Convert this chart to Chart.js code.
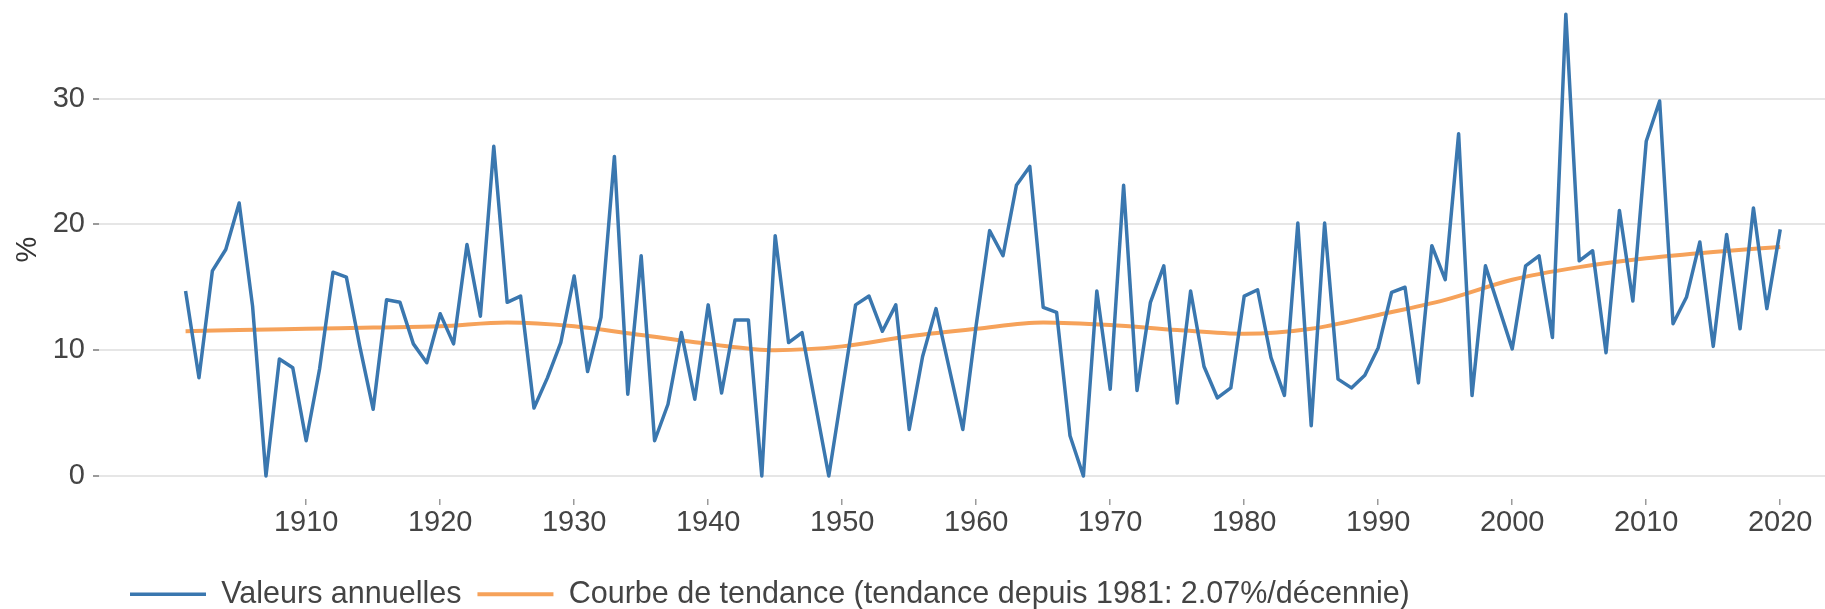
<!DOCTYPE html>
<html>
<head>
<meta charset="utf-8">
<script src="https://cdn.jsdelivr.net/npm/chart.js@4"></script>
<style>
  html, body { margin: 0; padding: 0; background: #fff; }
  #wrap { width: 1825px; height: 609px; position: relative; }
</style>
</head>
<body>
<div id="wrap"><canvas id="myChart"></canvas></div>
<script>
// années
const years = [
  1901, 1902, 1903, 1904, 1905, 1906, 1907, 1908, 1909, 1910,
  1911, 1912, 1913, 1914, 1915, 1916, 1917, 1918, 1919, 1920,
  1921, 1922, 1923, 1924, 1925, 1926, 1927, 1928, 1929, 1930,
  1931, 1932, 1933, 1934, 1935, 1936, 1937, 1938, 1939, 1940,
  1941, 1942, 1943, 1944, 1945, 1946, 1947, 1948, 1949, 1950,
  1951, 1952, 1953, 1954, 1955, 1956, 1957, 1958, 1959, 1960,
  1961, 1962, 1963, 1964, 1965, 1966, 1967, 1968, 1969, 1970,
  1971, 1972, 1973, 1974, 1975, 1976, 1977, 1978, 1979, 1980,
  1981, 1982, 1983, 1984, 1985, 1986, 1987, 1988, 1989, 1990,
  1991, 1992, 1993, 1994, 1995, 1996, 1997, 1998, 1999, 2000,
  2001, 2002, 2003, 2004, 2005, 2006, 2007, 2008, 2009, 2010,
  2011, 2012, 2013, 2014, 2015, 2016, 2017, 2018, 2019, 2020
];

// valeurs annuelles (%)
const annualValues = [
  14.7, 7.8, 16.3, 18.0, 21.7, 13.5, 0.0, 9.3, 8.6, 2.8,
  8.5, 16.2, 15.8, 10.3, 5.3, 14.0, 13.8, 10.5, 9.0, 12.9,
  10.5, 18.4, 12.7, 26.2, 13.8, 14.3, 5.4, 7.8, 10.6, 15.9,
  8.3, 12.6, 25.4, 6.5, 17.5, 2.8, 5.7, 11.4, 6.1, 13.6,
  6.6, 12.4, 12.4, 0.0, 19.1, 10.6, 11.4, 5.7, 0.0, 6.8,
  13.6, 14.3, 11.5, 13.6, 3.7, 9.5, 13.3, 8.5, 3.7, 12.0,
  19.5, 17.5, 23.1, 24.6, 13.4, 13.0, 3.2, 0.0, 14.7, 6.9,
  23.1, 6.8, 13.8, 16.7, 5.8, 14.7, 8.7, 6.2, 7.0, 14.3,
  14.8, 9.4, 6.4, 20.1, 4.0, 20.1, 7.7, 7.0, 8.0, 10.2,
  14.6, 15.0, 7.4, 18.3, 15.6, 27.2, 6.4, 16.7, 13.4, 10.1,
  16.7, 17.5, 11.0, 36.7, 17.1, 17.9, 9.8, 21.1, 13.9, 26.6,
  29.8, 12.1, 14.2, 18.6, 10.3, 19.2, 11.7, 21.3, 13.3, 19.6
];

// courbe de tendance
const trendYears = [1901, 1905, 1910, 1915, 1920, 1925, 1930, 1935, 1940, 1945, 1950, 1955, 1960,
  1965, 1970, 1975, 1980, 1985, 1990, 1995, 2000, 2005, 2010, 2015, 2020];
const trendValues = [11.5, 11.6, 11.7, 11.8, 11.9, 12.2, 11.9, 11.2, 10.5, 10.0, 10.3, 11.1, 11.7,
  12.2, 12.0, 11.6, 11.3, 11.7, 12.8, 14.0, 15.6, 16.6, 17.3, 17.8, 18.2];

const xTicks = [1910, 1920, 1930, 1940, 1950, 1960, 1970, 1980, 1990, 2000, 2010, 2020];
const yTicks = [0, 10, 20, 30];

const fontFamily = "'Liberation Sans', Arial, Helvetica, sans-serif";
const textColor = "#444";

// place la légende comme dans l'original
const legendPlace = {
  id: "legendPlace",
  afterLayout(chart) {
    chart.legend.left = 114;
    chart.legend.top = 563;
  }
};

loadchart();
function loadchart() {
  const data = {
    datasets: [
      {
        label: "Valeurs annuelles",
        data: years.map((y, i) => ({ x: y, y: annualValues[i] })),
        borderColor: "#3a77af",
        backgroundColor: "#3a77af",
        borderWidth: 3.5,
        borderJoinStyle: "round",
        pointRadius: 0,
        tension: 0,
      },
      {
        label: "Courbe de tendance (tendance depuis 1981: 2.07%/décennie)",
        data: trendYears.map((y, i) => ({ x: y, y: trendValues[i] })),
        borderColor: "#f6a25a",
        backgroundColor: "#f6a25a",
        borderWidth: 4,
        pointRadius: 0,
        cubicInterpolationMode: "monotone",
      },
    ],
  };

  const config = {
    type: "line",
    data: data,
    options: {
      responsive: true,
      maintainAspectRatio: false,
      animation: false,
      layout: { padding: 0 },
      plugins: {
        tooltip: { enabled: false },
        legend: {
          position: "bottom",
          align: "start",
          labels: {
            usePointStyle: true,
            pointStyle: "line",
            pointStyleWidth: 76,
            padding: 16,
            color: textColor,
            font: { family: fontFamily, size: 30.5 },
          },
        },
      },
      scales: {
        x: {
          type: "linear",
          min: 1894.54,
          max: 2023.34,
          afterBuildTicks: (scale) => {
            scale.ticks = xTicks.map((v) => ({ value: v }));
          },
          afterFit: (scale) => {
            scale.height = 53.5;
          },
          grid: {
            drawOnChartArea: false,
            drawTicks: true,
            tickLength: 6,
            tickColor: "#9a9a9a",
            lineWidth: 1.5,
          },
          border: { display: false },
          ticks: {
            padding: 1,
            maxRotation: 0,
            autoSkip: false,
            color: textColor,
            font: { family: fontFamily, size: 29 },
            callback: (v) => String(v),
          },
        },
        y: {
          min: -1.83,
          max: 37.83,
          afterBuildTicks: (scale) => {
            scale.ticks = yTicks.map((v) => ({ value: v }));
          },
          afterFit: (scale) => {
            scale.width = 99;
            scale.paddingTop = 0;
            scale.paddingBottom = 0;
          },
          grid: {
            color: "#e6e6e6",
            lineWidth: 2,
            drawTicks: true,
            tickLength: 6,
            tickColor: "#9a9a9a",
          },
          border: { display: false },
          ticks: {
            padding: 8,
            color: textColor,
            font: { family: fontFamily, size: 29 },
          },
          title: {
            display: true,
            text: "%",
            color: "#333",
            padding: { top: 11, bottom: 0 },
            font: { family: fontFamily, size: 29 },
          },
        },
      },
    },
    plugins: [legendPlace],
  };
  const myChart = new Chart(document.getElementById("myChart"), config);
}
</script>
</body>
</html>
